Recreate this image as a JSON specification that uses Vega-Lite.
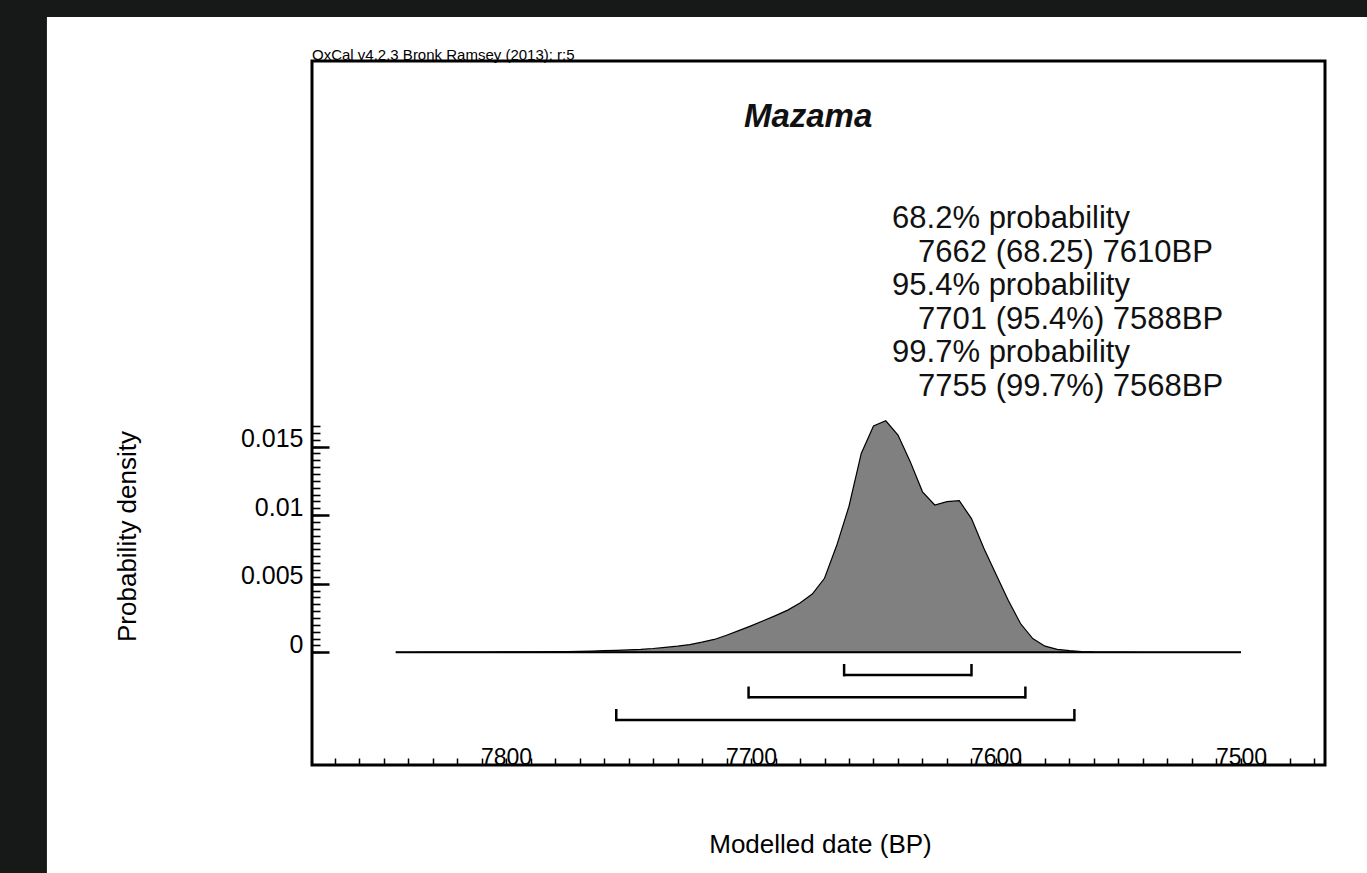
{
  "$schema": "https://vega.github.io/schema/vega-lite/v6.json",
  "width": 1013,
  "height": 704,
  "autosize": {"type": "none"},
  "padding": {"left": 312, "top": 61, "right": 42, "bottom": 108},
  "background": "white",
  "config": {
    "font": "Liberation Sans",
    "view": {"stroke": "black", "strokeWidth": 3},
    "axis": {"grid": false, "domain": false, "tickColor": "black", "labelColor": "black", "titleColor": "black", "titleFontWeight": "normal"}
  },
  "datasets": {
    "density": [
      {"year": 7845, "density": 0},
      {"year": 7840, "density": 0},
      {"year": 7830, "density": 0.00001},
      {"year": 7820, "density": 0.00001},
      {"year": 7810, "density": 0.00002},
      {"year": 7800, "density": 0.00003},
      {"year": 7790, "density": 0.00004},
      {"year": 7780, "density": 0.00005},
      {"year": 7775, "density": 0.00006},
      {"year": 7770, "density": 0.00008},
      {"year": 7765, "density": 0.0001},
      {"year": 7760, "density": 0.00012},
      {"year": 7755, "density": 0.00015},
      {"year": 7750, "density": 0.00018},
      {"year": 7745, "density": 0.00022},
      {"year": 7740, "density": 0.00028},
      {"year": 7735, "density": 0.00036},
      {"year": 7730, "density": 0.00045},
      {"year": 7725, "density": 0.00057},
      {"year": 7720, "density": 0.00074},
      {"year": 7715, "density": 0.00094},
      {"year": 7710, "density": 0.00125},
      {"year": 7705, "density": 0.00158},
      {"year": 7700, "density": 0.00193},
      {"year": 7695, "density": 0.0023},
      {"year": 7690, "density": 0.00268},
      {"year": 7685, "density": 0.00308},
      {"year": 7680, "density": 0.0036},
      {"year": 7675, "density": 0.00425},
      {"year": 7670, "density": 0.0054},
      {"year": 7665, "density": 0.0078},
      {"year": 7660, "density": 0.01065},
      {"year": 7655, "density": 0.0145},
      {"year": 7650, "density": 0.0165},
      {"year": 7645, "density": 0.01688},
      {"year": 7640, "density": 0.01584},
      {"year": 7635, "density": 0.0139},
      {"year": 7630, "density": 0.0117},
      {"year": 7625, "density": 0.01074},
      {"year": 7620, "density": 0.01098},
      {"year": 7615, "density": 0.01105},
      {"year": 7610, "density": 0.00975},
      {"year": 7605, "density": 0.0076},
      {"year": 7600, "density": 0.0057},
      {"year": 7595, "density": 0.0038},
      {"year": 7590, "density": 0.0021},
      {"year": 7585, "density": 0.001},
      {"year": 7580, "density": 0.00045},
      {"year": 7575, "density": 0.00022},
      {"year": 7570, "density": 0.00012},
      {"year": 7565, "density": 0.00006},
      {"year": 7560, "density": 0.00003},
      {"year": 7555, "density": 0.00002},
      {"year": 7550, "density": 0.00001},
      {"year": 7540, "density": 0},
      {"year": 7500, "density": 0}
    ],
    "ranges": [
      {"level": "68.2%", "from": 7662, "to": 7610},
      {"level": "95.4%", "from": 7701, "to": 7588},
      {"level": "99.7%", "from": 7755, "to": 7568}
    ]
  },
  "resolve": {"axis": {"x": "independent", "y": "independent"}},
  "layer": [
    {
      "data": {"values": [{}]},
      "mark": {"type": "rect", "color": "#171818"},
      "encoding": {
        "x": {"datum": 8300, "type": "quantitative", "axis": null, "scale": {"domain": [7465.7, 7879.2], "reverse": true, "nice": false, "zero": false}},
        "x2": {"datum": 7987.4},
        "y": {"datum": 0.2, "type": "quantitative", "axis": null, "scale": {"domain": [-0.00821, 0.0431], "nice": false, "zero": false}},
        "y2": {"datum": -0.2}
      }
    },
    {
      "data": {"values": [{}]},
      "mark": {"type": "rect", "color": "#171818"},
      "encoding": {
        "x": {"datum": 8300, "type": "quantitative", "axis": null, "scale": {"domain": [7465.7, 7879.2], "reverse": true, "nice": false, "zero": false}},
        "x2": {"datum": 7000},
        "y": {"datum": 0.2, "type": "quantitative", "axis": null, "scale": {"domain": [-0.00821, 0.0431], "nice": false, "zero": false}},
        "y2": {"datum": 0.046306}
      }
    },
    {
      "data": {"name": "density"},
      "mark": {"type": "area", "color": "#808080", "stroke": "black", "strokeWidth": 1.2},
      "encoding": {
        "x": {
          "field": "year", "type": "quantitative",
          "scale": {"domain": [7465.7, 7879.2], "reverse": true, "nice": false, "zero": false},
          "axis": {
            "orient": "bottom",
            "values": [7470,7480,7490,7500,7510,7520,7530,7540,7550,7560,7570,7580,7590,7600,7610,7620,7630,7640,7650,7660,7670,7680,7690,7700,7710,7720,7730,7740,7750,7760,7770,7780,7790,7800,7810,7820,7830,7840,7850,7860,7870],
            "tickSize": -7, "tickWidth": 1.5,
            "labelExpr": "datum.value % 100 === 0 ? datum.value : ''",
            "labelFontSize": 23, "labelPadding": 6, "labelBaseline": "alphabetic", "labelAlign": "center",
            "labelOverlap": false, "labelFlush": false,
            "title": "Modelled date (BP)", "titleFontSize": 26,
            "titleX": 508, "titleY": 87, "titleAlign": "center", "titleBaseline": "alphabetic", "titleAnchor": "middle"
          }
        },
        "y": {
          "field": "density", "type": "quantitative",
          "scale": {"domain": [-0.00821, 0.0431], "nice": false, "zero": false},
          "axis": {
            "orient": "left",
            "values": [0,0.0005,0.001,0.0015,0.002,0.0025,0.003,0.0035,0.004,0.0045,0.005,0.0055,0.006,0.0065,0.007,0.0075,0.008,0.0085,0.009,0.0095,0.01,0.0105,0.011,0.0115,0.012,0.0125,0.013,0.0135,0.014,0.0145,0.015,0.0155,0.016,0.0165],
            "tickSize": -8, "tickWidth": 1.6, "labels": false, "title": null
          }
        }
      }
    },
    {
      "data": {"values": [{}]},
      "mark": {"type": "rule", "color": "black", "strokeWidth": 2},
      "encoding": {
        "x": {"datum": 7845, "type": "quantitative", "axis": null, "scale": {"domain": [7465.7, 7879.2], "reverse": true, "nice": false, "zero": false}},
        "x2": {"datum": 7500},
        "y": {
          "datum": 0, "type": "quantitative",
          "scale": {"domain": [-0.00821, 0.0431], "nice": false, "zero": false},
          "axis": {
            "orient": "left",
            "values": [0, 0.005, 0.01, 0.015],
            "tickSize": -17, "tickWidth": 2.5,
            "labelExpr": "datum.value === 0 ? '0' : datum.value === 0.005 ? '0.005' : datum.value === 0.01 ? '0.01' : '0.015'",
            "labelFontSize": 25, "labelPadding": 26, "labelBaseline": "alphabetic", "labelAlign": "right",
            "labelOverlap": false, "labelFlush": false,
            "title": "Probability density", "titleFontSize": 26, "titleAngle": -90,
            "titleX": -177, "titleY": 475, "titleAlign": "center", "titleBaseline": "alphabetic"
          }
        }
      }
    },
    {
      "data": {"name": "ranges"},
      "transform": [{"filter": "datum.level === '68.2%'"}],
      "layer": [
        {
          "mark": {"type": "rule", "color": "black", "strokeWidth": 2.5},
          "encoding": {
            "x": {"field": "from", "type": "quantitative", "axis": null, "scale": {"domain": [7465.7, 7879.2], "reverse": true, "nice": false, "zero": false}},
            "x2": {"field": "to"},
            "y": {"datum": -0.001655, "type": "quantitative", "axis": null, "scale": {"domain": [-0.00821, 0.0431], "nice": false, "zero": false}}
          }
        },
        {
          "transform": [{"fold": ["from", "to"], "as": ["end", "value"]}],
          "mark": {"type": "rule", "color": "black", "strokeWidth": 2.5},
          "encoding": {
            "x": {"field": "value", "type": "quantitative", "axis": null, "scale": {"domain": [7465.7, 7879.2], "reverse": true, "nice": false, "zero": false}},
            "y": {"datum": -0.00175, "type": "quantitative", "axis": null, "scale": {"domain": [-0.00821, 0.0431], "nice": false, "zero": false}},
            "y2": {"datum": -0.00085}
          }
        }
      ]
    },
    {
      "data": {"name": "ranges"},
      "transform": [{"filter": "datum.level === '95.4%'"}],
      "layer": [
        {
          "mark": {"type": "rule", "color": "black", "strokeWidth": 2.5},
          "encoding": {
            "x": {"field": "from", "type": "quantitative", "axis": null, "scale": {"domain": [7465.7, 7879.2], "reverse": true, "nice": false, "zero": false}},
            "x2": {"field": "to"},
            "y": {"datum": -0.00328, "type": "quantitative", "axis": null, "scale": {"domain": [-0.00821, 0.0431], "nice": false, "zero": false}}
          }
        },
        {
          "transform": [{"fold": ["from", "to"], "as": ["end", "value"]}],
          "mark": {"type": "rule", "color": "black", "strokeWidth": 2.5},
          "encoding": {
            "x": {"field": "value", "type": "quantitative", "axis": null, "scale": {"domain": [7465.7, 7879.2], "reverse": true, "nice": false, "zero": false}},
            "y": {"datum": -0.00337, "type": "quantitative", "axis": null, "scale": {"domain": [-0.00821, 0.0431], "nice": false, "zero": false}},
            "y2": {"datum": -0.00249}
          }
        }
      ]
    },
    {
      "data": {"name": "ranges"},
      "transform": [{"filter": "datum.level === '99.7%'"}],
      "layer": [
        {
          "mark": {"type": "rule", "color": "black", "strokeWidth": 2.5},
          "encoding": {
            "x": {"field": "from", "type": "quantitative", "axis": null, "scale": {"domain": [7465.7, 7879.2], "reverse": true, "nice": false, "zero": false}},
            "x2": {"field": "to"},
            "y": {"datum": -0.004934, "type": "quantitative", "axis": null, "scale": {"domain": [-0.00821, 0.0431], "nice": false, "zero": false}}
          }
        },
        {
          "transform": [{"fold": ["from", "to"], "as": ["end", "value"]}],
          "mark": {"type": "rule", "color": "black", "strokeWidth": 2.5},
          "encoding": {
            "x": {"field": "value", "type": "quantitative", "axis": null, "scale": {"domain": [7465.7, 7879.2], "reverse": true, "nice": false, "zero": false}},
            "y": {"datum": -0.00502, "type": "quantitative", "axis": null, "scale": {"domain": [-0.00821, 0.0431], "nice": false, "zero": false}},
            "y2": {"datum": -0.00413}
          }
        }
      ]
    },
    {
      "data": {"values": [{}]},
      "mark": {"type": "text", "text": "OxCal v4.2.3 Bronk Ramsey (2013); r:5", "fontSize": 15, "align": "left", "baseline": "alphabetic", "color": "black", "dy": -1},
      "encoding": {
        "x": {"datum": 7879.2, "type": "quantitative", "axis": null, "scale": {"domain": [7465.7, 7879.2], "reverse": true, "nice": false, "zero": false}},
        "y": {"datum": 0.0431, "type": "quantitative", "axis": null, "scale": {"domain": [-0.00821, 0.0431], "nice": false, "zero": false}}
      }
    },
    {
      "data": {"values": [{}]},
      "mark": {"type": "text", "text": "Mazama", "fontSize": 33, "fontWeight": "bold", "fontStyle": "italic", "align": "center", "baseline": "alphabetic", "color": "#111111"},
      "encoding": {
        "x": {"datum": 7676.7, "type": "quantitative", "axis": null, "scale": {"domain": [7465.7, 7879.2], "reverse": true, "nice": false, "zero": false}},
        "y": {"datum": 0.03829, "type": "quantitative", "axis": null, "scale": {"domain": [-0.00821, 0.0431], "nice": false, "zero": false}}
      }
    },
    {
      "data": {"values": [{}]},
      "mark": {"type": "text", "text": ["68.2% probability", "95.4% probability", "99.7% probability"], "lineHeight": 67, "fontSize": 31, "align": "left", "baseline": "alphabetic", "color": "#111111"},
      "encoding": {
        "x": {"datum": 7642.4, "type": "quantitative", "axis": null, "scale": {"domain": [7465.7, 7879.2], "reverse": true, "nice": false, "zero": false}},
        "y": {"datum": 0.030926, "type": "quantitative", "axis": null, "scale": {"domain": [-0.00821, 0.0431], "nice": false, "zero": false}}
      }
    },
    {
      "data": {"values": [{}]},
      "mark": {"type": "text", "text": ["7662 (68.25) 7610BP", "7701 (95.4%) 7588BP", "7755 (99.7%) 7568BP"], "lineHeight": 67, "fontSize": 31, "align": "left", "baseline": "alphabetic", "color": "#111111"},
      "encoding": {
        "x": {"datum": 7631.8, "type": "quantitative", "axis": null, "scale": {"domain": [7465.7, 7879.2], "reverse": true, "nice": false, "zero": false}},
        "y": {"datum": 0.028485, "type": "quantitative", "axis": null, "scale": {"domain": [-0.00821, 0.0431], "nice": false, "zero": false}}
      }
    }
  ]
}
